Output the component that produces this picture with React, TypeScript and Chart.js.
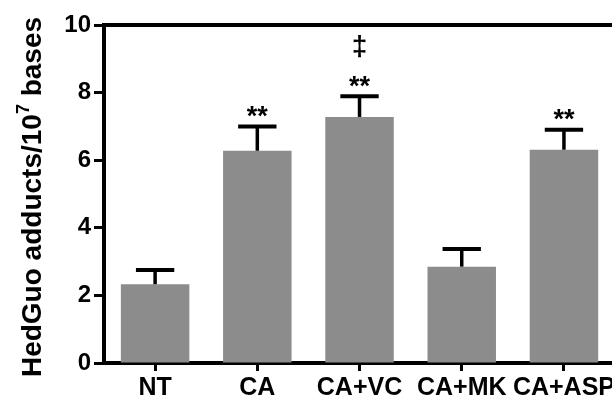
import { useEffect, useRef } from 'react';
import { Chart, registerables } from 'chart.js';

Chart.register(...registerables);

const categories = ['NT', 'CA', 'CA+VC', 'CA+MK', 'CA+ASP'];
const means = [2.33, 6.28, 7.28, 2.85, 6.31];
const sems = [0.42, 0.72, 0.61, 0.52, 0.59];
const stars = ['', '**', '**', '', '**'];
const daggers = ['', '', '‡', '', ''];
const yTicks = [0, 2, 4, 6, 8, 10];
const yTitleMain = 'HedGuo adducts/10';
const yTitleSup = '7';
const yTitleEnd = ' bases';

const FONT = '"Liberation Sans", Arial, Helvetica, sans-serif';
const BAR = '#8c8c8c';

const topLinePlugin = {
  id: 'topLine',
  afterDraw(chart: any) {
    const { ctx, chartArea } = chart;
    ctx.save();
    ctx.strokeStyle = '#000';
    ctx.lineWidth = 4;
    ctx.beginPath();
    ctx.moveTo(chartArea.left - 2, chartArea.top);
    ctx.lineTo(chartArea.right, chartArea.top);
    ctx.stroke();
    ctx.restore();
  },
};

const errorPlugin = {
  id: 'errorBars',
  afterDatasetsDraw(chart: any) {
    const { ctx } = chart;
    const y = chart.scales.y;
    const meta = chart.getDatasetMeta(0);
    ctx.save();
    ctx.strokeStyle = '#000';
    meta.data.forEach((bar: any, i: number) => {
      const x = bar.x;
      const yBase = y.getPixelForValue(means[i]);
      const yTop = y.getPixelForValue(means[i] + sems[i]);
      const half = bar.width * 0.28;
      ctx.lineWidth = 3.5;
      ctx.beginPath();
      ctx.moveTo(x, yBase);
      ctx.lineTo(x, yTop);
      ctx.stroke();
      ctx.lineWidth = 4;
      ctx.beginPath();
      ctx.moveTo(x - half, yTop);
      ctx.lineTo(x + half, yTop);
      ctx.stroke();
      ctx.fillStyle = '#000';
      ctx.textAlign = 'center';
      ctx.textBaseline = 'alphabetic';
      if (stars[i]) {
        ctx.font = `bold 27px ${FONT}`;
        const c = yTop - 17;
        ctx.fillText(stars[i], x, c + 0.58 * 27);
      }
      if (daggers[i]) {
        ctx.font = `bold 28px ${FONT}`;
        const c = yTop - 49;
        ctx.fillText(daggers[i], x, c + 0.26 * 28);
      }
    });
    ctx.restore();
  },
};

const titlePlugin = {
  id: 'yTitle',
  afterDraw(chart: any) {
    const { ctx } = chart;
    const mainSize = 28;
    const supSize = 18;
    ctx.save();
    ctx.fillStyle = '#000';
    ctx.font = `bold ${mainSize}px ${FONT}`;
    const w1 = ctx.measureText(yTitleMain).width;
    const w3 = ctx.measureText(yTitleEnd).width;
    ctx.font = `bold ${supSize}px ${FONT}`;
    const w2 = ctx.measureText(yTitleSup).width;
    const total = w1 + w2 + w3;
    const cx = 41;
    const cy = 197;
    ctx.translate(cx, cy);
    ctx.rotate(-Math.PI / 2);
    ctx.textBaseline = 'alphabetic';
    ctx.textAlign = 'left';
    let x = -total / 2;
    ctx.font = `bold ${mainSize}px ${FONT}`;
    ctx.fillText(yTitleMain, x, 0);
    x += w1;
    ctx.font = `bold ${supSize}px ${FONT}`;
    ctx.fillText(yTitleSup, x, -mainSize * 0.42);
    x += w2;
    ctx.font = `bold ${mainSize}px ${FONT}`;
    ctx.fillText(yTitleEnd, x, 0);
    ctx.restore();
  },
};

export default function App() {
  const ref = useRef<HTMLCanvasElement>(null);
  useEffect(() => {
    const chart = new Chart(ref.current as HTMLCanvasElement, {
      type: 'bar',
      data: {
        labels: categories,
        datasets: [
          {
            data: means,
            backgroundColor: BAR,
            borderWidth: 0,
            barPercentage: 1,
            categoryPercentage: 0.67,
          },
        ],
      },
      options: {
        responsive: false,
        animation: false,
        devicePixelRatio: 1,
        layout: { padding: { top: 25, left: 0, right: 0, bottom: 0 } },
        plugins: { legend: { display: false }, tooltip: { enabled: false } },
        scales: {
          x: {
            grid: {
              display: true,
              drawOnChartArea: false,
              drawTicks: true,
              offset: false,
              tickLength: 8,
              tickWidth: 3,
              tickColor: '#000',
            },
            border: { display: true, color: '#000', width: 4 },
            ticks: {
              color: '#000',
              font: { family: FONT, size: 25, weight: 'bold' },
              padding: 2,
              maxRotation: 0,
              autoSkip: false,
            },
            afterFit: (s: any) => {
              s.height = 39;
            },
          },
          y: {
            min: 0,
            max: 10,
            afterBuildTicks: (s: any) => {
              s.ticks = yTicks.map((v) => ({ value: v }));
            },
            grid: {
              display: true,
              drawOnChartArea: false,
              drawTicks: true,
              tickLength: 10,
              tickWidth: 3,
              tickColor: '#000',
            },
            border: { display: true, color: '#000', width: 4 },
            ticks: {
              color: '#000',
              font: { family: FONT, size: 24, weight: 'bold' },
              padding: 3,
            },
            afterFit: (s: any) => {
              s.width = 104;
            },
          },
        },
      } as any,
      plugins: [errorPlugin, topLinePlugin, titlePlugin],
    });
    return () => chart.destroy();
  }, []);
  return (
    <div
      style={{
        position: 'fixed',
        left: 0,
        top: 0,
        width: 612,
        height: 402,
        overflow: 'hidden',
        background: '#fff',
      }}
    >
      <canvas ref={ref} width={617} height={402} style={{ display: 'block' }} />
    </div>
  );
}
